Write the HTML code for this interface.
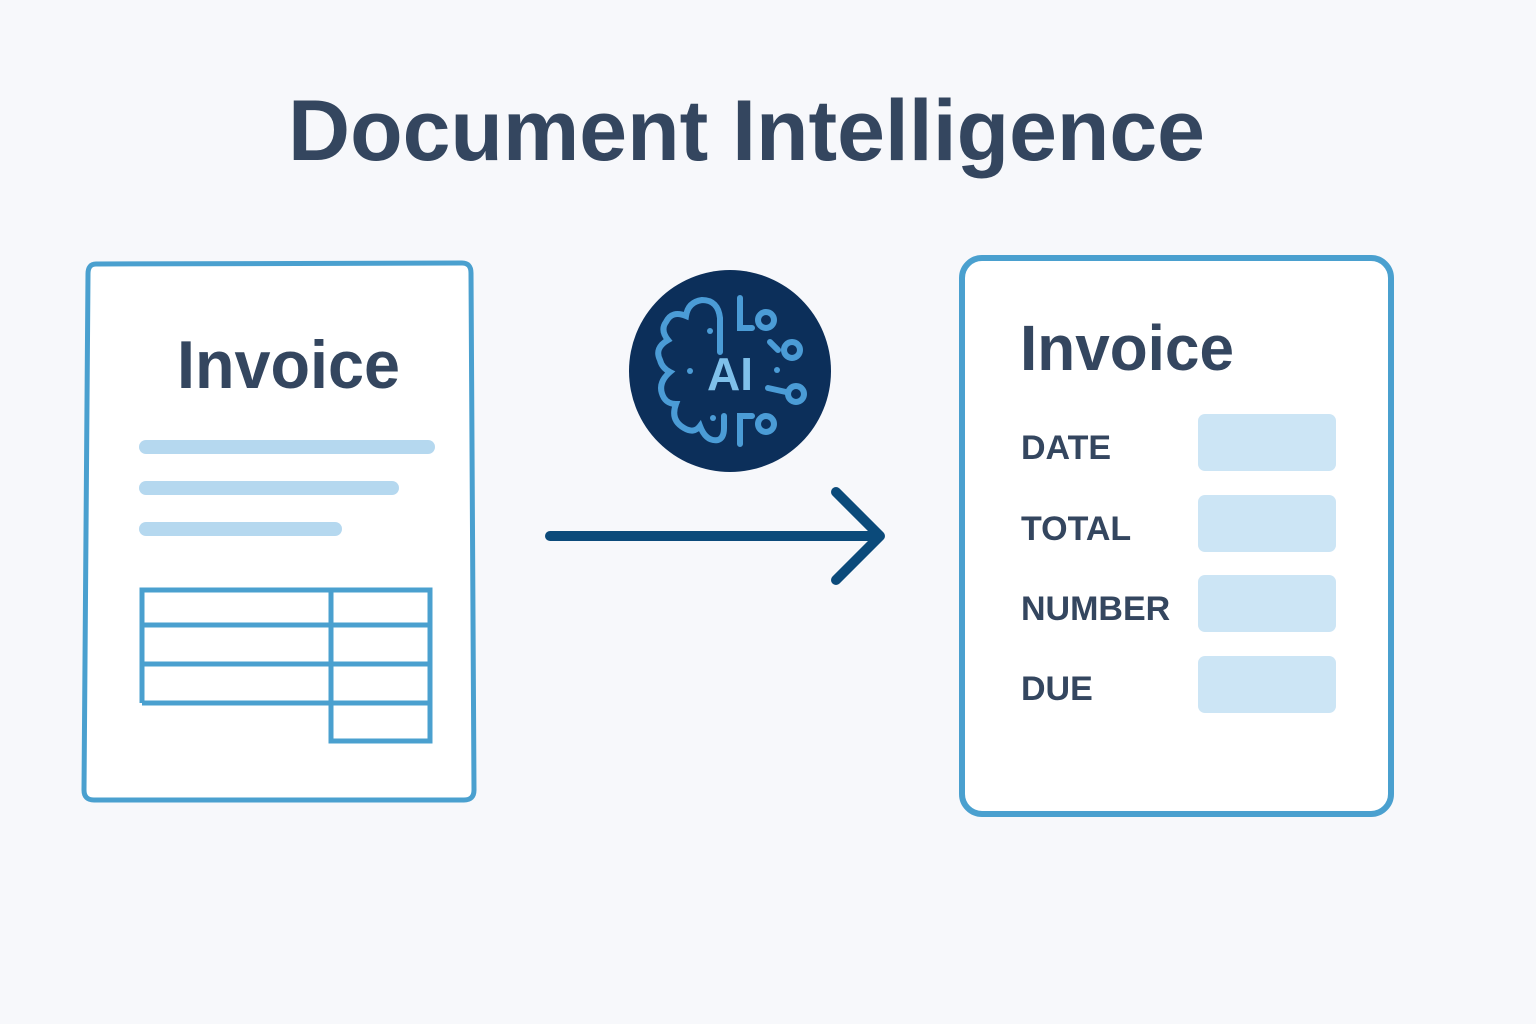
<!DOCTYPE html>
<html><head><style>
body{margin:0;background:#f7f8fb;}
svg{display:block}
</style></head><body>
<svg width="1536" height="1024" viewBox="0 0 1536 1024" xmlns="http://www.w3.org/2000/svg">
<rect width="1536" height="1024" fill="#f7f8fb"/>
<text x="288" y="160" textLength="917" lengthAdjust="spacingAndGlyphs" font-family="Liberation Sans, sans-serif" font-weight="bold" font-size="86" fill="#34465f">Document Intelligence</text>
<!-- left doc -->
<path d="M96,264 L462,263 Q471,263 471,273 L474,790 Q474,800 464,800 L94,800 Q84,800 84,790 L88,274 Q88,264 96,264 Z" fill="#fff" stroke="#4aa0cf" stroke-width="5"/>
<text x="177" y="388" textLength="223" lengthAdjust="spacingAndGlyphs" font-family="Liberation Sans, sans-serif" font-weight="bold" font-size="68" fill="#34465f">Invoice</text>
<g stroke="#b5d8ef" stroke-width="14" stroke-linecap="round">
<line x1="146" y1="447" x2="428" y2="447"/>
<line x1="146" y1="488" x2="392" y2="488"/>
<line x1="146" y1="529" x2="335" y2="529"/>
</g>
<g fill="none" stroke="#4aa0cf" stroke-width="5">
<path d="M142,703 L142,590 L430,590 L430,741 L331,741 L331,590"/>
<line x1="142" y1="625" x2="430" y2="625"/>
<line x1="142" y1="664" x2="430" y2="664"/>
<line x1="142" y1="703" x2="430" y2="703"/>
</g>
<!-- AI circle -->
<circle cx="730" cy="371" r="101" fill="#0c2f5a"/>
<g fill="none" stroke="#4b9cd6" stroke-width="6" stroke-linecap="round">
<path d="M720,352 L720,318 Q718,300 702,300 Q688,302 686,316 Q672,310 666,322 Q660,330 668,340 Q654,348 660,360 Q662,368 670,372 Q656,384 664,398 Q668,404 676,404 Q670,420 684,428 Q694,434 700,426 Q706,442 718,440 Q724,438 724,428 L724,416"/>
<path d="M740,298 L740,328 L752,328"/>
<circle cx="766" cy="320" r="8"/>
<path d="M770,342 L778,350"/>
<circle cx="792" cy="350" r="8"/>
<path d="M768,388 L786,392"/>
<circle cx="796" cy="394" r="8"/>
<path d="M740,444 L740,416 L752,416"/>
<circle cx="766" cy="424" r="8"/>
</g>
<g fill="#4b9cd6"><circle cx="710" cy="331" r="3"/><circle cx="690" cy="371" r="3"/><circle cx="713" cy="418" r="3"/><circle cx="777" cy="370" r="3"/></g>
<text x="730" y="390" text-anchor="middle" font-family="Liberation Sans, sans-serif" font-weight="bold" font-size="46" fill="#7fc0ea">AI</text>
<!-- arrow -->
<g stroke="#0b4a7a" stroke-width="10" stroke-linecap="round" stroke-linejoin="round" fill="none">
<line x1="550" y1="536" x2="878" y2="536"/>
<path d="M836,492 L880,536 L836,580"/>
</g>
<!-- right card -->
<rect x="962" y="258" width="429" height="556" rx="20" fill="#fff" stroke="#4aa0cf" stroke-width="6"/>
<text x="1020" y="370" textLength="214" lengthAdjust="spacingAndGlyphs" font-family="Liberation Sans, sans-serif" font-weight="bold" font-size="64" fill="#34465f">Invoice</text>
<g font-family="Liberation Sans, sans-serif" font-weight="bold" font-size="34" fill="#34465f">
<text x="1021" y="459">DATE</text>
<text x="1021" y="540">TOTAL</text>
<text x="1021" y="620">NUMBER</text>
<text x="1021" y="700">DUE</text>
</g>
<g fill="#cce5f5">
<rect x="1198" y="414" width="138" height="57" rx="7"/>
<rect x="1198" y="495" width="138" height="57" rx="7"/>
<rect x="1198" y="575" width="138" height="57" rx="7"/>
<rect x="1198" y="656" width="138" height="57" rx="7"/>
</g>
</svg>
</body></html>
